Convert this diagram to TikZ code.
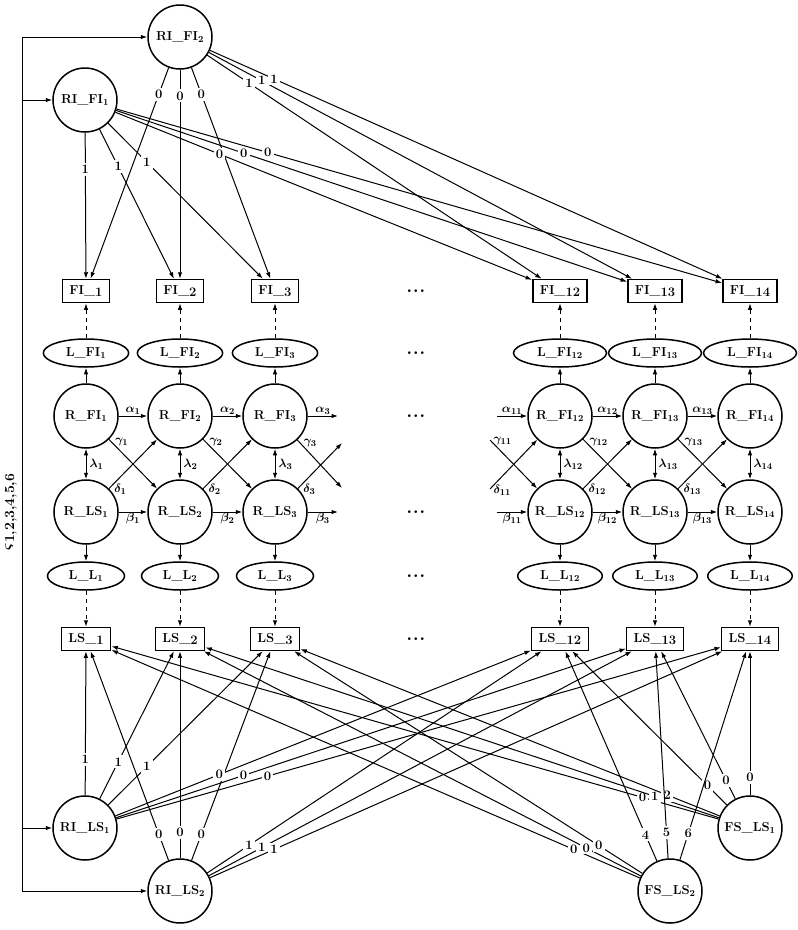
\documentclass[tikz,border=0pt]{standalone}
\usetikzlibrary{shapes.geometric,arrows.meta}
\begin{document}
\begin{tikzpicture}[x=1pt,y=-1pt,
  every node/.style={font=\bfseries\boldmath\fontsize{13}{15}\selectfont},
  lat/.style={circle,draw,line width=1.5pt,minimum size=64pt,inner sep=0pt},
  obs/.style={rectangle,draw,line width=1.5pt,minimum height=23pt,inner xsep=7pt,inner ysep=2pt},
  res/.style={ellipse,draw,line width=1.5pt,inner xsep=10pt,inner ysep=4pt,minimum height=28pt},
  arr/.style={-{Latex[length=6.5pt,width=4.5pt]},line width=1pt},
  darr/.style={arr,dash pattern=on 4.5pt off 3.5pt},
  biarr/.style={{Latex[length=6.5pt,width=4.5pt]}-{Latex[length=6.5pt,width=4.5pt]},line width=1pt},
  wl/.style={fill=white,inner sep=2.2pt,font=\bfseries\fontsize{13}{15}\selectfont},
  gl/.style={inner sep=1pt},
  dotlab/.style={inner sep=0pt,font=\bfseries\boldmath\fontsize{18}{20}\selectfont}
]
\useasboundingbox (0,0) rectangle (798,930);

% latent intercept / slope factors
\node[lat] (RIFI2) at (180,37) {RI\_FI\textsubscript{2}};
\node[lat] (RIFI1) at (85,100) {RI\_FI\textsubscript{1}};
\node[lat] (RILS1) at (85,828) {RI\_LS\textsubscript{1}};
\node[lat] (RILS2) at (180,891) {RI\_LS\textsubscript{2}};
\node[lat] (FSLS1) at (750,828) {FS\_LS\textsubscript{1}};
\node[lat] (FSLS2) at (670,891) {FS\_LS\textsubscript{2}};

% columns
\foreach \i/\x in {1/86,2/180,3/275,12/560,13/655,14/750}{
  \node[obs] (FI\i) at (\x,291) {FI\_\raisebox{-2pt}{\i}};
  \node[res] (LFI\i) at (\x,353) {L\_FI\textsubscript{\i}};
  \node[lat] (RFI\i) at (\x,416) {R\_FI\textsubscript{\i}};
  \node[lat] (RLS\i) at (\x,512) {R\_LS\textsubscript{\i}};
  \node[res] (LL\i) at (\x,576) {L\_L\textsubscript{\i}};
  \node[obs] (LS\i) at (\x,639) {LS\_\raisebox{-2pt}{\i}};
  \draw[arr] (RFI\i) -- (LFI\i);
  \draw[darr] (LFI\i) -- (FI\i);
  \draw[arr] (RLS\i) -- (LL\i);
  \draw[darr] (LL\i) -- (LS\i);
  \draw[biarr] (RFI\i) -- node[gl,right,xshift=2pt]{$\lambda_{\i}$} (RLS\i);
}

% dots
\foreach \y/\n in {291/a,353/b,416/c,512/d,576/e,639/f}{
  \node[dotlab] (dots\n) at (416,\y) {$\cdot$\hspace{1pt}$\cdot$\hspace{1pt}$\cdot$};
}

% cross-lagged paths
\foreach \a/\b in {1/2,2/3,12/13,13/14}{
  \draw[arr] (RFI\a) -- node[gl,above]{$\alpha_{\a}$} (RFI\b);
  \draw[arr] (RLS\a) -- node[gl,below]{$\beta_{\a}$} (RLS\b);
  \draw[arr] (RFI\a) -- node[gl,pos=0,anchor=west,xshift=5pt,yshift=-3pt]{$\gamma_{\a}$} (RLS\b);
  \draw[arr] (RLS\a) -- node[gl,pos=0,anchor=west,xshift=4pt,yshift=-1pt]{$\delta_{\a}$} (RFI\b);
}
% free ends after column 3
\coordinate (a3e) at (338,416);
\coordinate (b3e) at (338,512);
\coordinate (g3e) at (342,488);
\coordinate (d3e) at (342,443);
\draw[arr] (RFI3) -- node[gl,above]{$\alpha_{3}$} (a3e);
\draw[arr] (RLS3) -- node[gl,below]{$\beta_{3}$} (b3e);
\draw[arr] (RFI3) -- node[gl,pos=0,anchor=west,xshift=5pt,yshift=-3pt]{$\gamma_{3}$} (g3e);
\draw[arr] (RLS3) -- node[gl,pos=0,anchor=west,xshift=4pt,yshift=-1pt]{$\delta_{3}$} (d3e);
% free starts before column 12
\coordinate (a11s) at (497,416);
\coordinate (b11s) at (497,512);
\coordinate (g11s) at (490,440);
\coordinate (d11s) at (490,489);
\draw[arr] (a11s) -- node[gl,above]{$\alpha_{11}$} (RFI12);
\draw[arr] (b11s) -- node[gl,below]{$\beta_{11}$} (RLS12);
\draw[arr] (g11s) -- node[gl,pos=0,anchor=west,xshift=2pt,yshift=-1pt]{$\gamma_{11}$} (RLS12);
\draw[arr] (d11s) -- node[gl,pos=0,anchor=west,xshift=2pt,yshift=-1pt]{$\delta_{11}$} (RFI12);

% loadings
\foreach \t in {1,2,3}{
  \draw[arr] (RIFI1) -- node[wl,pos=0.25]{1} (FI\t);
  \draw[arr] (RIFI2) -- node[wl,pos=0.125]{0} (FI\t);
  \draw[arr] (RILS1) -- node[wl,pos=0.25]{1} (LS\t);
  \draw[arr] (RILS2) -- node[wl,pos=0.125]{0} (LS\t);
  \draw[arr] (FSLS2) -- node[wl,pos=0.125]{0} (LS\t);
}
\foreach \t in {12,13,14}{
  \draw[arr] (RIFI1) -- node[wl,pos=0.25]{0} (FI\t);
  \draw[arr] (RIFI2) -- node[wl,pos=0.125]{1} (FI\t);
  \draw[arr] (RILS1) -- node[wl,pos=0.25]{0} (LS\t);
  \draw[arr] (RILS2) -- node[wl,pos=0.125]{1} (LS\t);
  \draw[arr] (FSLS1) -- node[wl,pos=0.125]{0} (LS\t);
}
\foreach \t/\v in {1/0,2/1,3/2}{
  \draw[arr] (FSLS1) -- node[wl,pos=0.125]{\v} (LS\t);
}
\foreach \t/\v in {12/4,13/5,14/6}{
  \draw[arr] (FSLS2) -- node[wl,pos=0.125]{\v} (LS\t);
}

% left bracket with residual covariance label
\coordinate (bt) at (22,37);
\coordinate (b1) at (22,100);
\coordinate (b3) at (22,828);
\coordinate (bb) at (22,891);
\draw[line width=1pt] (bt) -- (bb);
\draw[arr] (bt) -- (RIFI2);
\draw[arr] (b1) -- (RIFI1);
\draw[arr] (b3) -- (RILS1);
\draw[arr] (bb) -- (RILS2);
\node[gl,rotate=90,font=\bfseries\boldmath\fontsize{14}{16}\selectfont] (zeta) at (11,512) {$\varsigma$\raisebox{-2.5pt}{1,2,3,4,5,6}};
\end{tikzpicture}
\end{document}
